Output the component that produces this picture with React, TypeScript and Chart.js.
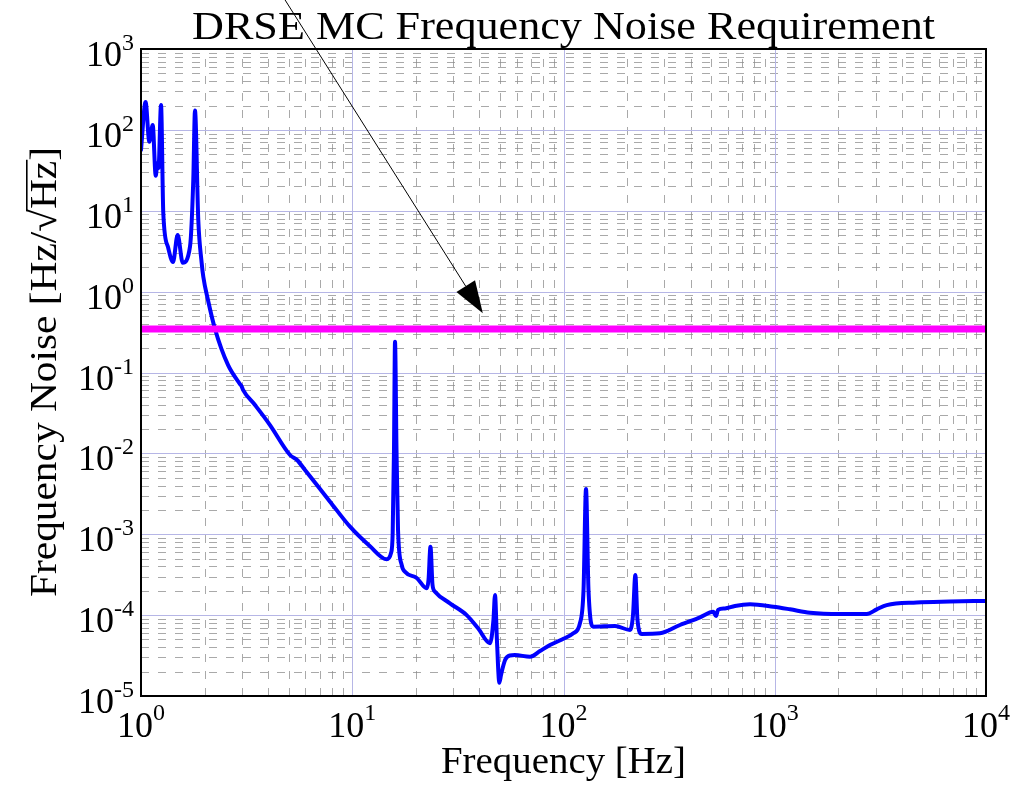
import React, { useEffect, useRef } from "react";
import { Chart, registerables } from "chart.js";

Chart.register(...registerables);

// ---- data ----
const freqHz = [
  1.0, 1.051, 1.095, 1.136, 1.174, 1.197, 1.21, 1.244, 1.275, 1.342, 1.417, 1.491, 1.576, 1.706, 1.768, 1.801,
  1.867, 1.938, 1.972, 2.075, 2.24, 2.581, 2.942, 2.99, 3.04, 3.465, 4.08, 5.075, 5.48, 5.975, 7.85, 9.76, 12.1,
  14.56, 15.26, 15.54, 15.76, 15.94, 16.2, 16.47, 17.14, 17.77, 20.19, 22.5, 22.96, 23.46, 23.99, 24.65, 29.0,
  34.8, 39.4, 44.9, 46.6, 47.4, 48.4, 49.7, 50.6, 52.9, 55.8, 58.9, 69.4, 77.4, 86.3, 98.4, 111.3, 119.7, 124.4,
  127.8, 131.3, 138.4, 175.3, 206.5, 213.3, 218.8, 224, 234.6, 286.3, 356, 443, 512, 527, 539, 581, 648, 763.6,
  984, 1181, 1469, 2037, 2725, 3039, 3388, 4700, 6754, 10000,
];
const noiseAmp = [
  56.4, 221, 71.4, 115, 27.1, 38.9, 33.8, 203, 9.38, 3.56, 2.32, 5.01, 2.28, 3.6, 24, 173,
  7.69, 2.24, 1.53, 0.787, 0.345, 0.124, 0.072, 0.068, 0.061, 0.0396, 0.0224, 0.00955, 0.00828, 0.00623,
  0.00253, 0.00124, 7.16e-4,
  4.9e-4, 5.86e-4, 1.04e-3, 0.011, 0.24, 0.011, 1.13e-3, 4.17e-4, 3.44e-4, 2.88e-4, 2.15e-4, 2.72e-4, 7.0e-4,
  2.35e-4, 1.95e-4, 1.4e-4,
  1.0e-4, 6.87e-5, 4.49e-5, 8.7e-5, 1.77e-4, 4.92e-5, 1.46e-5, 1.82e-5, 2.79e-5, 3.17e-5, 3.21e-5, 3.06e-5,
  3.6e-5, 4.27e-5, 5.0e-5, 5.96e-5, 8.0e-5, 2.05e-4,
  3.63e-3, 2.05e-4, 7.2e-5, 7.34e-5, 6.55e-5, 1.0e-4, 3.13e-4, 8.7e-5, 5.85e-5, 5.96e-5, 7.55e-5, 9.4e-5,
  1.1e-4, 9.75e-5, 1.16e-4, 1.21e-4, 1.3e-4, 1.36e-4,
  1.27e-4, 1.18e-4, 1.07e-4, 1.03e-4, 1.03e-4, 1.18e-4, 1.33e-4, 1.43e-4, 1.47e-4, 1.5e-4,
];
const reqFreq = [1, 10000];
const reqLevel = [0.345, 0.345];

const xTickExps = [0, 1, 2, 3, 4];
const yTickExps = [-5, -4, -3, -2, -1, 0, 1, 2, 3];
const minorSteps = [2, 3, 4, 5, 6, 7, 8, 9];

const titleText = "DRSE MC Frequency Noise Requirement";
const xLabelText = "Frequency [Hz]";
const yLabelHead = "Frequency Noise [Hz/";
const yLabelRoot = "Hz";
const yLabelTail = "]";

// arrow annotation (data coordinates)
const arrowFrom = [4.81, 4036];
const arrowTo = [41.5, 0.54];

const SERIF = '"Liberation Serif", "Times New Roman", serif';

const decorPlugin = {
  id: "decor",
  beforeDatasetsDraw(chart: any) {
    const { ctx, chartArea: a, scales } = chart;
    const xs = scales.x;
    const ys = scales.y;
    ctx.save();
    // minor dashed grid
    ctx.strokeStyle = "rgba(140,140,140,0.75)";
    ctx.lineWidth = 1;
    ctx.setLineDash([8, 9]);
    for (const e of xTickExps.slice(0, -1)) {
      for (const k of minorSteps) {
        const px = Math.round(xs.getPixelForValue(k * Math.pow(10, e))) + 0.5;
        ctx.beginPath();
        ctx.moveTo(px, a.bottom);
        ctx.lineTo(px, a.top);
        ctx.stroke();
      }
    }
    for (const e of yTickExps.slice(0, -1)) {
      for (const k of minorSteps) {
        const py = Math.round(ys.getPixelForValue(k * Math.pow(10, e))) + 0.5;
        ctx.beginPath();
        ctx.moveTo(a.left, py);
        ctx.lineTo(a.right, py);
        ctx.stroke();
      }
    }
    // major solid grid
    ctx.setLineDash([]);
    ctx.strokeStyle = "#b6b6e6";
    for (const e of xTickExps) {
      const px = Math.round(xs.getPixelForValue(Math.pow(10, e))) + 0.5;
      ctx.beginPath();
      ctx.moveTo(px, a.bottom);
      ctx.lineTo(px, a.top);
      ctx.stroke();
    }
    for (const e of yTickExps) {
      const py = Math.round(ys.getPixelForValue(Math.pow(10, e))) + 0.5;
      ctx.beginPath();
      ctx.moveTo(a.left, py);
      ctx.lineTo(a.right, py);
      ctx.stroke();
    }
    ctx.restore();
  },
  afterDatasetsDraw(chart: any) {
    const { ctx, chartArea: a, scales } = chart;
    const xs = scales.x;
    const ys = scales.y;
    ctx.save();
    // axes border
    ctx.strokeStyle = "#000";
    ctx.lineWidth = 2;
    ctx.strokeRect(a.left, a.top, a.right - a.left, a.bottom - a.top);

    ctx.fillStyle = "#000";
    ctx.textBaseline = "alphabetic";
    const baseFont = `36px ${SERIF}`;
    const expFont = `24px ${SERIF}`;

    // y tick labels
    for (const e of yTickExps) {
      const py = ys.getPixelForValue(Math.pow(10, e));
      const expStr = String(e);
      ctx.font = expFont;
      const we = ctx.measureText(expStr).width;
      ctx.textAlign = "right";
      ctx.fillText(expStr, 134, py + 1);
      ctx.font = baseFont;
      ctx.fillText("10", 134 - we, py + 17);
    }
    // x tick labels
    for (const e of xTickExps) {
      const px = xs.getPixelForValue(Math.pow(10, e));
      const expStr = String(e);
      ctx.font = baseFont;
      const wb = ctx.measureText("10").width;
      ctx.font = expFont;
      const we = ctx.measureText(expStr).width;
      const left = px - (wb + we) / 2;
      ctx.textAlign = "left";
      ctx.font = baseFont;
      ctx.fillText("10", left, 737);
      ctx.font = expFont;
      ctx.fillText(expStr, left + wb, 720);
    }

    // title
    ctx.font = `40px ${SERIF}`;
    {
      const w = ctx.measureText(titleText).width;
      const s = 743 / w;
      ctx.save();
      ctx.translate((a.left + a.right) / 2, 39);
      ctx.scale(s, 1);
      ctx.textAlign = "center";
      ctx.fillText(titleText, 0, 0);
      ctx.restore();
    }

    // x label
    ctx.font = `38px ${SERIF}`;
    {
      const w = ctx.measureText(xLabelText).width;
      const s = 245 / w;
      ctx.save();
      ctx.translate((a.left + a.right) / 2, 773);
      ctx.scale(s, 1);
      ctx.textAlign = "center";
      ctx.fillText(xLabelText, 0, 0);
      ctx.restore();
    }

    // y label with square root
    ctx.font = `38px ${SERIF}`;
    {
      const w1 = ctx.measureText(yLabelHead).width;
      const w2 = ctx.measureText("\u221A").width;
      const w3 = ctx.measureText(yLabelRoot).width;
      const w4 = ctx.measureText(yLabelTail).width;
      const total = w1 + w2 + w3 + w4;
      const s = 450 / total;
      const rootTop = ctx.measureText("\u221A").actualBoundingBoxAscent;
      ctx.save();
      ctx.translate(56, 372);
      ctx.rotate(-Math.PI / 2);
      ctx.scale(s, 1);
      ctx.textAlign = "left";
      let x = -total / 2;
      ctx.fillText(yLabelHead, x, 0);
      x += w1;
      ctx.fillText("\u221A", x, 0);
      x += w2;
      const ox = x;
      ctx.fillText(yLabelRoot, x, 0);
      x += w3;
      ctx.fillText(yLabelTail, x, 0);
      ctx.lineWidth = 1.6;
      ctx.beginPath();
      ctx.moveTo(ox - 2, -rootTop + 0.8);
      ctx.lineTo(ox + w3 + 1, -rootTop + 0.8);
      ctx.stroke();
      ctx.restore();
    }

    // arrow annotation
    {
      const x0 = xs.getPixelForValue(arrowFrom[0]);
      const y0 = ys.getPixelForValue(arrowFrom[1]);
      const x1 = xs.getPixelForValue(arrowTo[0]);
      const y1 = ys.getPixelForValue(arrowTo[1]);
      const dx = x1 - x0;
      const dy = y1 - y0;
      const len = Math.hypot(dx, dy);
      const ux = dx / len;
      const uy = dy / len;
      const headL = 32;
      const headW = 11;
      const bx = x1 - ux * headL;
      const by = y1 - uy * headL;
      ctx.strokeStyle = "#000";
      ctx.lineWidth = 1;
      ctx.beginPath();
      ctx.moveTo(x0, y0);
      ctx.lineTo(bx, by);
      ctx.stroke();
      ctx.beginPath();
      ctx.moveTo(x1, y1);
      ctx.lineTo(bx - uy * headW, by + ux * headW);
      ctx.lineTo(bx + uy * headW, by - ux * headW);
      ctx.closePath();
      ctx.fill();
    }
    ctx.restore();
  },
};

export default function App() {
  const canvasRef = useRef<HTMLCanvasElement | null>(null);

  useEffect(() => {
    const canvas = canvasRef.current;
    if (!canvas) return;
    const curve = freqHz.map((f, i) => ({ x: f, y: noiseAmp[i] }));
    const req = reqFreq.map((f, i) => ({ x: f, y: reqLevel[i] }));
    const chart = new Chart(canvas, {
      type: "line",
      data: {
        datasets: [
          {
            label: "Requirement",
            data: req,
            borderColor: "#ff00ff",
            borderWidth: 7,
            pointRadius: 0,
            order: 0,
          },
          {
            label: "Frequency noise",
            data: curve,
            borderColor: "#0000ff",
            borderWidth: 4,
            pointRadius: 0,
            cubicInterpolationMode: "monotone",
            borderJoinStyle: "round",
            borderCapStyle: "round",
            order: 1,
          },
        ],
      },
      options: {
        animation: false,
        responsive: false,
        devicePixelRatio: 1,
        layout: { padding: { left: 141, right: 37, top: 49, bottom: 92 } },
        plugins: {
          legend: { display: false },
          tooltip: { enabled: false },
          title: { display: false },
        },
        scales: {
          x: { type: "logarithmic", min: 1, max: 10000, display: false },
          y: { type: "logarithmic", min: 1e-5, max: 1e3, display: false },
        },
      },
      plugins: [decorPlugin],
    } as any);
    return () => chart.destroy();
  }, []);

  return (
    <div style={{ position: "fixed", left: 0, top: 0, width: 1023, height: 788, background: "#fff" }}>
      <canvas ref={canvasRef} width={1023} height={788} style={{ width: 1023, height: 788, display: "block" }} />
    </div>
  );
}
